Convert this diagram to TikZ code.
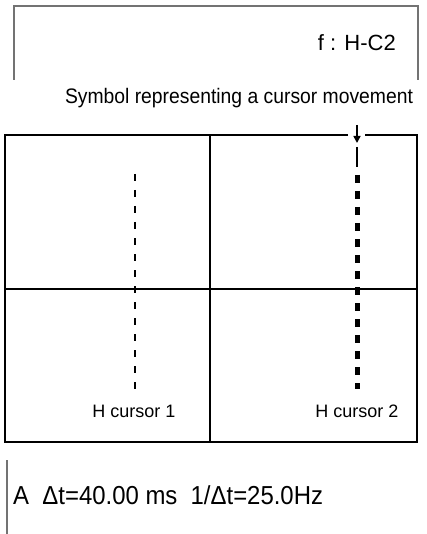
\documentclass[tikz,border=0pt]{standalone}
\usepackage{fontspec}
\setmainfont{Liberation Sans}
\usetikzlibrary{arrows.meta}
\begin{document}
\begin{tikzpicture}[x=1pt,y=-1pt,
  graybox/.style={draw=black!55,line width=1.2pt},
  frame/.style={draw=black,line width=2pt},
  divider/.style={draw=black,line width=1.5pt},
  lbl/.style={inner sep=0pt,font=\fontsize{18}{21}\selectfont},
  cursorA/.style={draw=black,line width=2pt,dash pattern=on 7pt off 9pt},
  cursorB/.style={draw=black,line width=5pt,dash pattern=on 8pt off 8pt}]
\useasboundingbox (0,0) rectangle (427,534);
% top gray box
\draw[graybox] (14,80) -- (14,6) -- (418,6) -- (418,80);
\node[lbl,anchor=base east,font=\fontsize{22}{26}\selectfont] (fn) at (396,50.7) {f : H-C2};
% caption
\node[lbl,anchor=base,xscale=0.92,font=\fontsize{21}{24}\selectfont] (cap) at (239,103.3) {Symbol representing a cursor movement};
% main frame
\coordinate (tl) at (5,135);
\coordinate (tr) at (417,135);
\coordinate (bl) at (5,442);
\coordinate (br) at (417,442);
\coordinate (g1) at (348,135);
\coordinate (g2) at (365,135);
\draw[frame] (g1) -- (tl) -- (bl) -- (br) -- (tr) -- (g2);
\coordinate (vt) at (210,135);
\coordinate (vb) at (210,442);
\coordinate (hl) at (5,289);
\coordinate (hr) at (417,289);
\draw[divider] (vt) -- (vb);
\draw[divider] (hl) -- (hr);
% arrow
\coordinate (as) at (357,125);
\coordinate (ae) at (357,143);
\draw[line width=1.5pt,-{Triangle[length=7pt,width=7pt]}] (as) -- (ae);
% cursor 1
\coordinate (c1t) at (135,174);
\coordinate (c1b) at (135,391);
\draw[cursorA] (c1t) -- (c1b);
% cursor 2
\coordinate (c2s) at (357,147);
\coordinate (c2m) at (357,167);
\draw[line width=1.5pt] (c2s) -- (c2m);
\coordinate (c2t) at (357,175);
\coordinate (c2b) at (357,389);
\draw[cursorB] (c2t) -- (c2b);
% labels
\node[lbl,anchor=base] (h1) at (134,417) {H cursor 1};
\node[lbl,anchor=base] (h2) at (357,417) {H cursor 2};
% bottom readout
\draw[graybox,line width=1.5pt] (7,460) -- (7,534);
\node[lbl,anchor=base west,xscale=0.92,font=\fontsize{26}{30}\selectfont] (rd) at (13,504) {A\ \ Δt=40.00 ms\ \ 1/Δt=25.0Hz};
\end{tikzpicture}
\end{document}
